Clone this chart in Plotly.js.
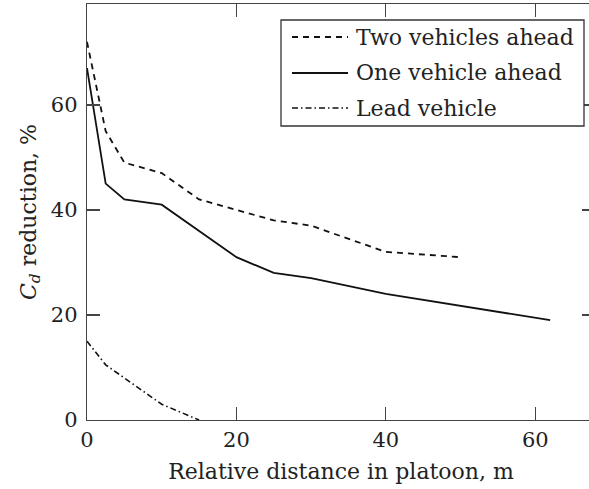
<!DOCTYPE html>
<html>
<head>
<meta charset="utf-8">
<script src="https://cdn.plot.ly/plotly-3.0.1.min.js"></script>
<style>
html, body { margin: 0; padding: 0; overflow: hidden; background: #fff; width: 589px; height: 489px; }
#chart { width: 597px; height: 489px; }
</style>
</head>
<body>
<div id="chart"></div>
<script>
// Two vehicles ahead (dashed)
const twoAheadX = [0, 2.5, 5, 10, 15, 20, 25, 30, 40, 50];
const twoAheadY = [72, 55, 49, 47, 42, 40, 38, 37, 32, 31];
// One vehicle ahead (solid)
const oneAheadX = [0, 2.5, 5, 10, 20, 25, 30, 40, 62];
const oneAheadY = [67, 45, 42, 41, 31, 28, 27, 24, 19];
// Lead vehicle (dash-dot)
const leadX = [0, 2.5, 5, 10, 15];
const leadY = [15, 10.5, 8, 3, 0];

const seriesNames = ["Two vehicles ahead", "One vehicle ahead", "Lead vehicle"];
const xTicks = [0, 20, 40, 60];
const yTicks = [0, 20, 40, 60];

const fontFam = "DejaVu Serif, serif";
const axisColor = "#444";
const textColor = "#222";
const dashes = ["6px,5px", "solid", "6px,3px,1.5px,3px"];
const widths = [1.8, 1.8, 1.6];

const traces = [
  {x: twoAheadX, y: twoAheadY, name: seriesNames[0], mode: "lines",
   line: {color: "#111", width: widths[0], dash: dashes[0]}},
  {x: oneAheadX, y: oneAheadY, name: seriesNames[1], mode: "lines",
   line: {color: "#111", width: widths[1], dash: dashes[1]}},
  {x: leadX, y: leadY, name: seriesNames[2], mode: "lines",
   line: {color: "#111", width: widths[2], dash: dashes[2]}}
];

// plot-area geometry in pixels (for placing the legend box in paper coords)
const plotL = 87, plotW = 508, plotT = 4, plotH = 416;
const px = v => (v - plotL) / plotW;
const py = v => (plotT + plotH - v) / plotH;

const legBox = {l: 281, t: 20, r: 584, b: 126};
const legRows = [37, 73, 108];
const sampleX0 = 292, sampleX1 = 348, legTextX = 354;

const shapes = [{
  type: "rect", xref: "paper", yref: "paper",
  x0: px(legBox.l), x1: px(legBox.r), y0: py(legBox.b), y1: py(legBox.t),
  line: {color: "#333", width: 1.3}, fillcolor: "#fff", layer: "above"
}];
const annotations = [];
seriesNames.forEach((name, i) => {
  shapes.push({
    type: "line", xref: "paper", yref: "paper",
    x0: px(sampleX0), x1: px(sampleX1), y0: py(legRows[i]), y1: py(legRows[i]),
    line: {color: "#111", width: widths[i], dash: dashes[i]}, layer: "above"
  });
  annotations.push({
    xref: "paper", yref: "paper", x: px(legTextX), y: py(legRows[i]),
    xanchor: "left", yanchor: "middle", showarrow: false, text: name,
    font: {family: fontFam, size: 22, color: textColor}
  });
});

const layout = {
  width: 597, height: 489,
  margin: {l: plotL, r: 597 - plotL - plotW, t: plotT, b: 489 - plotT - plotH},
  paper_bgcolor: "#fff", plot_bgcolor: "#fff",
  font: {family: fontFam, size: 21, color: textColor},
  showlegend: false,
  shapes: shapes,
  annotations: annotations,
  xaxis: {
    range: [0, 68], tickvals: xTicks, ticktext: xTicks.map(String),
    ticks: "inside", ticklen: 13, tickwidth: 1.3, tickcolor: axisColor,
    showline: true, linecolor: axisColor, linewidth: 1.3, mirror: "ticks",
    showgrid: false, zeroline: false,
    ticklabelstandoff: 0,
    title: {text: "Relative distance in platoon, m", standoff: 13, font: {family: fontFam, size: 22, color: textColor}}
  },
  yaxis: {
    range: [0, 79.2], tickvals: yTicks, ticktext: yTicks.map(String),
    ticks: "inside", ticklen: 13, tickwidth: 1.3, tickcolor: axisColor,
    showline: true, linecolor: axisColor, linewidth: 1.3, mirror: "ticks",
    showgrid: false, zeroline: false,
    ticklabelstandoff: 4,
    title: {text: "<i>C</i><sub><i>d</i></sub> reduction, %", standoff: 8, font: {family: fontFam, size: 22, color: textColor}}
  }
};

Plotly.newPlot("chart", traces, layout, {displayModeBar: false, staticPlot: true});
</script>
</body>
</html>
